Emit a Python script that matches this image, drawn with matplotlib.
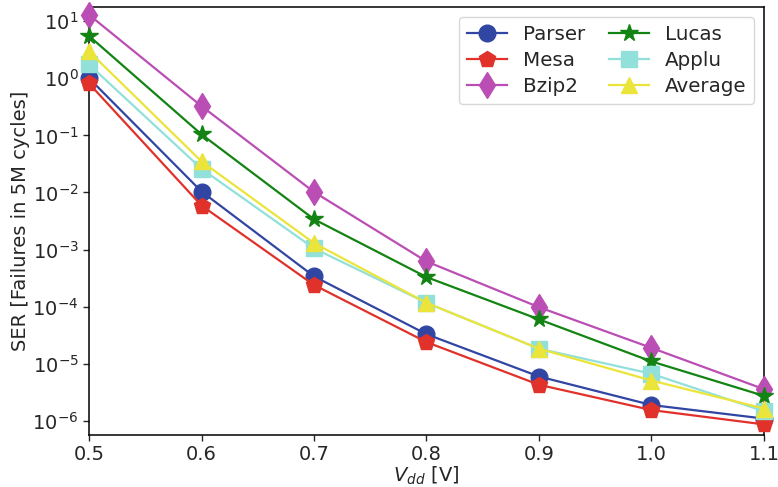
import numpy as np
import matplotlib
matplotlib.use('Agg')
import matplotlib.pyplot as plt
from matplotlib.ticker import NullLocator, LogLocator

# supply voltages and SER per benchmark (failures in 5M cycles)
vdd = [0.5, 0.6, 0.7, 0.8, 0.9, 1.0, 1.1]
parser = [1.0, 0.0104, 3.4e-4, 3.3e-5, 6.0e-6, 1.9e-6, 1.1e-6]
mesa = [0.81, 0.0059, 2.4e-4, 2.4e-5, 4.3e-6, 1.55e-6, 8.7e-7]
bzip2 = [12.9, 0.325, 0.0102, 6.2e-4, 9.8e-5, 1.9e-5, 3.6e-6]
lucas = [5.5, 0.104, 3.4e-3, 3.3e-4, 6.0e-5, 1.1e-5, 2.75e-6]
applu = [1.74, 0.026, 1.05e-3, 1.17e-4, 1.84e-5, 6.7e-6, 1.48e-6]
average = [2.95, 0.035, 1.3e-3, 1.17e-4, 1.84e-5, 5.1e-6, 1.65e-6]

plt.rcParams['font.family'] = 'DejaVu Sans'
plt.rcParams['font.size'] = 14
plt.rcParams['text.color'] = '#262626'
plt.rcParams['axes.labelcolor'] = '#262626'
plt.rcParams['xtick.color'] = '#262626'
plt.rcParams['ytick.color'] = '#262626'

fig = plt.figure(figsize=(7.78, 4.87), dpi=100)
ax = fig.add_axes([0.1144, 0.107, 0.8676, 0.879])

series = [
    ('Parser', parser, 'o', '#3146a3'),
    ('Mesa', mesa, 'p', '#e0322a'),
    ('Bzip2', bzip2, 'd', '#bb4eb4'),
    ('Lucas', lucas, '*', '#138413'),
    ('Applu', applu, 's', '#92e0da'),
    ('Average', average, '^', '#ebe43a'),
]
for name, vals, mk, col in series:
    ms = 12
    if mk == '*':
        ms = 13
    if mk == 'd':
        ms = 13
    ax.plot(vdd, vals, marker=mk, color=col, lw=1.6, ms=ms, label=name,
            clip_on=False, zorder=3)

ax.set_yscale('log')
ax.set_xlim(0.5, 1.1)
ax.set_ylim(5.7e-7, 17.8)
ax.yaxis.set_major_locator(LogLocator(base=10, numticks=20))
ax.yaxis.set_minor_locator(NullLocator())
ax.set_xticks(vdd)
ax.set_xticklabels(['%.1f' % v for v in vdd])
ax.tick_params(direction='out', length=4, width=1, labelsize=14)
for sp in ax.spines.values():
    sp.set_linewidth(1.1)
    sp.set_color('black')

ax.set_xlabel('$V_{dd}$ [V]', fontsize=14, labelpad=0)
ax.set_ylabel('SER [Failures in 5M cycles]', fontsize=14, labelpad=2)

ax.legend(ncol=2, loc='upper right', fontsize=14.3, handlelength=2.0,
          columnspacing=1.2, borderpad=0.4, labelspacing=0.35,
          edgecolor='#d8d8d8', framealpha=1, borderaxespad=0.5)

fig.savefig('out.png', dpi=100)
